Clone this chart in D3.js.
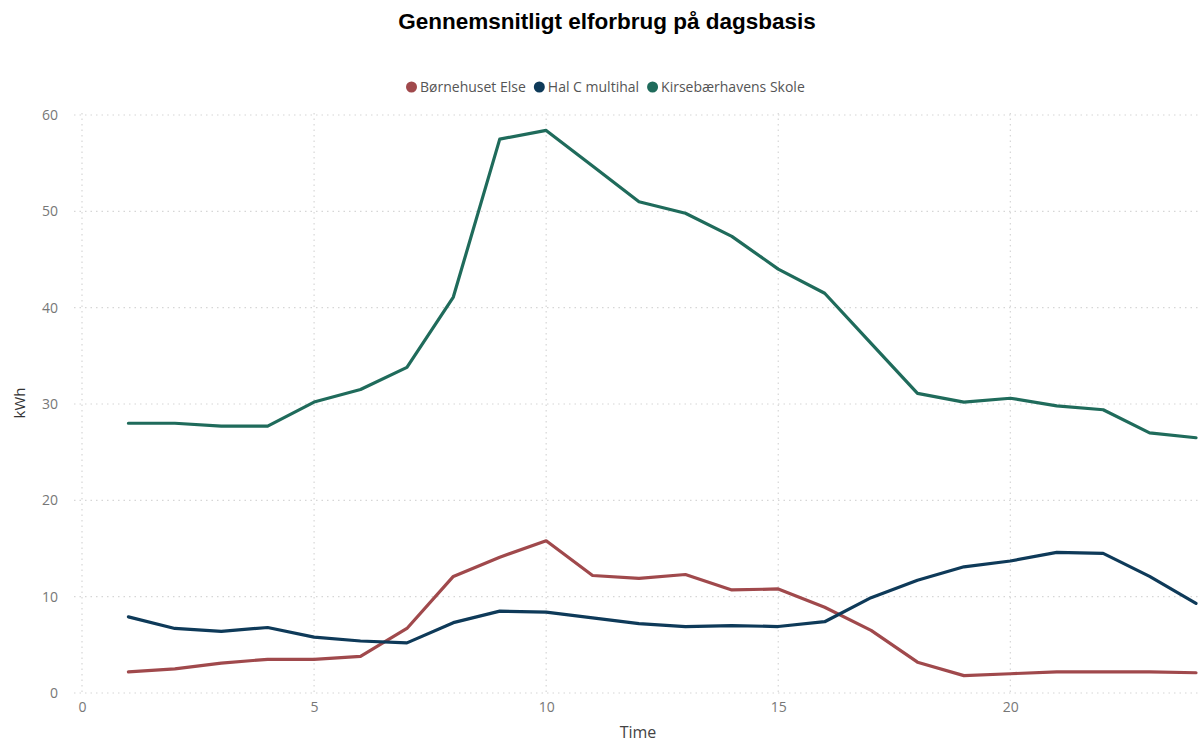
<!DOCTYPE html>
<html><head><meta charset="utf-8">
<script src="https://cdn.jsdelivr.net/npm/d3@7"></script>
<style>
body{margin:0;background:#fff;}
svg{display:block;}
</style></head>
<body><svg id="chart" width="1200" height="742"></svg>
<script>
const hours = d3.range(1, 25);
const seriesNames = ["Børnehuset Else", "Hal C multihal", "Kirsebærhavens Skole"];
const colors = ["#a0494c", "#0e3a59", "#1f6b5b"];
const borne = [2.2,2.5,3.1,3.5,3.5,3.8,6.7,12.1,14.1,15.8,12.2,11.9,12.3,10.7,10.8,8.9,6.5,3.2,1.8,2.0,2.2,2.2,2.2,2.1];
const halC = [7.9,6.7,6.4,6.8,5.8,5.4,5.2,7.3,8.5,8.4,7.8,7.2,6.9,7.0,6.9,7.4,9.9,11.7,13.1,13.7,14.6,14.5,12.1,9.3];
const kirse = [28.0,28.0,27.7,27.7,30.2,31.5,33.8,41.1,57.5,58.4,54.7,51.0,49.8,47.4,44.0,41.5,36.3,31.1,30.2,30.6,29.8,29.4,27.0,26.5];
const xTicks = [0,5,10,15,20];
const yTicks = [0,10,20,30,40,50,60];
const title = "Gennemsnitligt elforbrug på dagsbasis";
const xLabel = "Time";
const yLabel = "kWh";

const svg = d3.select("#chart");
const x = d3.scaleLinear().domain([0,24]).range([82,1196]);
const y = d3.scaleLinear().domain([0,60]).range([693,115]);

// title
svg.append("text").attr("x",607).attr("y",29).attr("text-anchor","middle")
  .attr("font-family","Liberation Sans, Arial, sans-serif").attr("font-weight","bold")
  .attr("font-size",22.5).attr("fill","#000").text(title);

// legend
const legendData = seriesNames.map((n,i)=>({n, c:colors[i]}));
const lg = svg.append("g").attr("font-family","Open Sans, sans-serif").attr("font-size",14).attr("fill","#555");
let lx = 406;
legendData.forEach(d=>{
  const g = lg.append("g").attr("transform",`translate(${lx},87)`);
  g.append("circle").attr("cx",5.5).attr("cy",0).attr("r",5.5).attr("fill",d.c);
  const t = g.append("text").attr("x",14).attr("y",5).text(d.n);
  lx += 14 + t.node().getComputedTextLength() + 8;
});

// gridlines
const grid = svg.append("g").attr("stroke","#d6d6d6").attr("stroke-width",1.2).attr("stroke-dasharray","1.5,4");
yTicks.forEach(t=>grid.append("line").attr("x1",74).attr("x2",1198).attr("y1",y(t)).attr("y2",y(t)));
xTicks.forEach(t=>grid.append("line").attr("x1",x(t)).attr("x2",x(t)).attr("y1",113).attr("y2",695));

// y axis
const yAxis = svg.append("g").attr("transform","translate(60,0)")
  .call(d3.axisLeft(y).tickValues(yTicks).tickSize(0).tickPadding(2));
yAxis.select(".domain").remove();
yAxis.selectAll("text").attr("font-family","Open Sans, sans-serif").attr("font-size",14).attr("fill","#777");

// x axis
const xAxis = svg.append("g").attr("transform","translate(0,700)")
  .call(d3.axisBottom(x).tickValues(xTicks).tickSize(0).tickPadding(2));
xAxis.select(".domain").remove();
xAxis.selectAll("text").attr("font-family","Open Sans, sans-serif").attr("font-size",14).attr("fill","#777");

svg.append("text").attr("x",638).attr("y",738).attr("text-anchor","middle")
  .attr("font-family","Open Sans, sans-serif").attr("font-size",16).attr("fill","#444").text(xLabel);
svg.append("text").attr("transform","translate(25,403) rotate(-90)").attr("text-anchor","middle")
  .attr("font-family","Open Sans, sans-serif").attr("font-size",15).attr("fill","#333").text(yLabel);

// lines
const line = d3.line().x((d,i)=>x(hours[i])).y(d=>y(d));
[borne, halC, kirse].forEach((s,i)=>{
  svg.append("path").datum(s).attr("fill","none").attr("stroke",colors[i])
    .attr("stroke-width",3.2).attr("stroke-linejoin","round").attr("stroke-linecap","round").attr("d",line);
});
</script></body></html>
